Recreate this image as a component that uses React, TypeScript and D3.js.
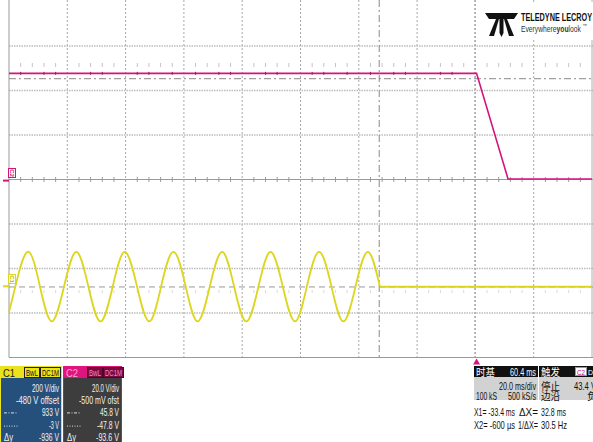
import React from "react";
import * as d3 from "d3";

// ---- Data ----
// time in ms relative to trigger; C1 volts
const c1Time = [-160.4, -158.2, -154.0, -149.8, -145.7, -141.5, -137.3, -133.2, -129.0, -124.8, -120.7, -116.5, -112.3, -108.2, -104.0, -99.8, -95.7, -91.5, -87.3, -83.2, -79.0, -74.8, -70.7, -66.5, -62.3, -58.2, -54.0, -49.8, -45.7, -41.5, -37.3, -33.2];
const c1Volt = [-116, 0, 155, 0, -158, 0, 155, 0, -158, 0, 155, 0, -158, 0, 155, 0, -158, 0, 155, 0, -158, 0, 155, 0, -158, 0, 155, 0, -158, 0, 155, 0];
const c1FlatTime = [-33.2, -20, 0, 20, 39.6];
const c1FlatVolt = [-2, -2, -2, -2, -2];
const c2Time = [-160.4, 0, 10.8, 39.6];
const c2Volt = [48.2, 48.2, 0.7, 0.7];

const timeDomain = [-160.4, 39.6];
const c1Center = 480; // -offset
const c1PerDiv = 200;
const c2Center = 0.5;
const c2PerDiv = 20;
const cursorX = [-33.4, -0.6];
const cursorC2 = [45.8, -47.8];

// [text, left symbol, text width]
const c1Lines: [string, string, number][] = [["200 V/div", "", 27], ["-480 V offset", "", 43], ["933 V", "dashdot", 17], ["-3 V", "dots", 10], ["-936 V", "dy", 20]];
const c2Lines: [string, string, number][] = [["20.0 V/div", "", 27], ["-500 mV ofst", "", 40], ["45.8 V", "dashdot", 19], ["-47.8 V", "dots", 22], ["-93.6 V", "dy", 23]];

const X0 = 9, X1 = 592, Y0 = 1.5, Y1 = 357.5;
const NX = 10, NY = 8;

const FONT = "'Liberation Sans',Arial,sans-serif";
const CJK = "'Noto Sans CJK SC',sans-serif";
const YEL = "#dcd61e";
const MAG = "#d3147c";

type TP = { x: number; y: number; w?: number; size?: number; anchor?: string; fill?: string; family?: string; weight?: string; children: React.ReactNode };
const T = ({ x, y, w, size = 10.8, anchor = "start", fill = "#111", family = FONT, weight, children }: TP) => (
  <text x={x} y={y} fontSize={size} textAnchor={anchor} fill={fill} fontFamily={family} fontWeight={weight}
    textLength={w} lengthAdjust={w ? "spacingAndGlyphs" : undefined}>{children}</text>
);

export default function App() {
  const x = d3.scaleLinear().domain(timeDomain).range([X0, X1]);
  const yC1 = d3.scaleLinear().domain([c1Center - 4 * c1PerDiv, c1Center + 4 * c1PerDiv]).range([Y1, Y0]);
  const yC2 = d3.scaleLinear().domain([c2Center - 4 * c2PerDiv, c2Center + 4 * c2PerDiv]).range([Y1, Y0]);
  const dx = (X1 - X0) / NX;
  const dy = (Y1 - Y0) / NY;
  const yc = (Y0 + Y1) / 2;

  const sinePts = c1Time.map((t, i) => [t, c1Volt[i]] as [number, number]);
  const sineLine = d3.line<[number, number]>().x(d => x(d[0])).y(d => yC1(d[1])).curve(d3.curveNatural);
  const flatLine = d3.line<[number, number]>().x(d => x(d[0])).y(d => yC1(d[1]));
  const flatPts = c1FlatTime.map((t, i) => [t, c1FlatVolt[i]] as [number, number]);
  const c2Pts = c2Time.map((t, i) => [t, c2Volt[i]] as [number, number]);
  const c2Line = d3.line<[number, number]>().x(d => x(d[0])).y(d => yC2(d[1]));

  const vLines = d3.range(1, NX).map(i => X0 + i * dx);
  const hLines = d3.range(1, NY).filter(i => i !== 4).map(i => Y0 + i * dy);
  const minor = d3.range(0, NX * 5 + 1).filter(i => i % 5 !== 0).map(i => X0 + i * dx / 5);

  const panel = (px: number, w: number, head: string, headBg: string, headFg: string, boxBg: string, boxFg: string, boxBorder: string, bodyBg: string, lines: [string, string, number][], outline: string) => (
    <g>
      <rect x={px + 0.5} y={366.5} width={w - 1} height={80} fill={bodyBg} stroke={outline} strokeWidth={1} />
      <rect x={px} y={366} width={w} height={12} fill={headBg} />
      <T x={px + 3} y={376.5} size={11} fill={headFg} w={12}>{head}</T>
      <rect x={px + 24.5} y={367.5} width={15} height={10} fill={boxBg} stroke={boxBorder} strokeWidth={1} />
      <T x={px + 32} y={375.5} size={8.5} fill={boxFg} anchor="middle" w={12}>BwL</T>
      <rect x={px + 40.5} y={367.5} width={20} height={10} fill={boxBg} stroke={boxBorder} strokeWidth={1} />
      <T x={px + 50.5} y={375.5} size={8.5} fill={boxFg} anchor="middle" w={17}>DC1M</T>
      {lines.map((l, i) => {
        const ty = 392 + i * 12.2;
        return (
          <g key={i}>
            <T x={px + w - 3} y={ty} size={10.5} fill="#f2f2f2" anchor="end" w={l[2]}>{l[0]}</T>
            {l[1] === "dashdot" && <line x1={px + 4} x2={px + 18} y1={ty - 3.5} y2={ty - 3.5} stroke="#ddd" strokeDasharray="3,1.5,1,1.5" />}
            {l[1] === "dots" && <line x1={px + 4} x2={px + 18} y1={ty - 2.5} y2={ty - 2.5} stroke="#ddd" strokeDasharray="1,1.5" />}
            {l[1] === "dy" && <T x={px + 4} y={ty} size={10.5} fill="#f2f2f2" w={9}>Δy</T>}
          </g>
        );
      })}
    </g>
  );

  return (
    <svg width={593} height={442} style={{ position: "absolute", left: 0, top: 0, background: "#fff" }}>
      <rect x={0} y={0} width={593} height={442} fill="#fff" />
      {/* grid */}
      {vLines.map((vx, i) => (
        <line key={"v" + i} x1={vx} x2={vx} y1={0} y2={Y1} stroke="#a8a8a8" strokeWidth={1} strokeDasharray="2,2" />
      ))}
      {hLines.map((hy, i) => (
        <line key={"h" + i} x1={X0} x2={593} y1={hy} y2={hy} stroke="#bcbcbc" strokeWidth={1.4} strokeDasharray="1.5,1" />
      ))}
      <line x1={X0} x2={593} y1={yc} y2={yc} stroke="#9a9a9a" strokeWidth={1} />
      {minor.map((mx, i) => (
        <line key={"t" + i} x1={mx} x2={mx} y1={yc - 2.5} y2={yc + 2.5} stroke="#9a9a9a" strokeWidth={1} />
      ))}
      {minor.map((mx, i) => (
        <line key={"u" + i} x1={mx} x2={mx} y1={63} y2={67} stroke="#c4c4c4" strokeWidth={1} />
      ))}
      {minor.map((mx, i) => (
        <line key={"w" + i} x1={mx} x2={mx} y1={290} y2={293} stroke="#dadada" strokeWidth={1} />
      ))}
      <line x1={X0} x2={X0} y1={0} y2={Y1} stroke="#9a9a9a" strokeWidth={1} />
      <line x1={X1} x2={X1} y1={0} y2={Y1} stroke="#b0b0b0" strokeWidth={1} />
      <line x1={X0} x2={593} y1={Y1} y2={Y1} stroke="#9a9a9a" strokeWidth={1} />

      {/* cursors */}
      <line x1={x(cursorX[0])} x2={x(cursorX[0])} y1={0} y2={Y1} stroke="#888" strokeWidth={1} strokeDasharray="7,3,2,3" />
      <line x1={x(cursorX[1])} x2={x(cursorX[1])} y1={0} y2={Y1} stroke="#aaa" strokeWidth={1} strokeDasharray="2,2" />
      <line x1={X0} x2={593} y1={yC2(cursorC2[0])} y2={yC2(cursorC2[0])} stroke="#888" strokeWidth={1} strokeDasharray="7,3,2,3" />
      <line x1={X0} x2={593} y1={yC2(cursorC2[1])} y2={yC2(cursorC2[1])} stroke="#999" strokeWidth={1} strokeDasharray="6,4" />

      {/* traces */}
      <path d={sineLine(sinePts) || ""} fill="none" stroke={YEL} strokeWidth={1.8} />
      <path d={flatLine(flatPts) || ""} fill="none" stroke={YEL} strokeWidth={1.8} />
      <path d={c2Line(c2Pts) || ""} fill="none" stroke={MAG} strokeWidth={1.6} />
      {minor.filter((_, i) => i % 3 !== 1).map((mx, i) => (
        mx < x(0) ? <line key={"m" + i} x1={mx} x2={mx} y1={yC2(c2Volt[0]) - 1.5} y2={yC2(c2Volt[0]) + 1.5} stroke="#a01860" strokeWidth={1} /> : null
      ))}

      {/* channel markers */}
      <rect x={8.5} y={168.5} width={7} height={9} fill="#fff" stroke={MAG} strokeWidth={1} />
      <text x={0} y={0} fontSize={6} fill={MAG} fontFamily={FONT} fontWeight="bold" textAnchor="middle" dy="0.35em" transform="translate(12,173) rotate(90)">C2</text>
      <line x1={3} x2={9} y1={yC2(0)} y2={yC2(0)} stroke={MAG} strokeWidth={2} />
      <rect x={8.5} y={274.5} width={7} height={9} fill="#fff" stroke={YEL} strokeWidth={1} />
      <text x={0} y={0} fontSize={6} fill="#b8b000" fontFamily={FONT} fontWeight="bold" textAnchor="middle" dy="0.35em" transform="translate(12,279) rotate(90)">C1</text>
      <line x1={3} x2={9} y1={yC1(0)} y2={yC1(0)} stroke={YEL} strokeWidth={2} />

      {/* trigger arrow */}
      <path d={`M${x(0)},${Y1 + 1} L${x(0) + 3.5},${Y1 + 7} L${x(0) - 3.5},${Y1 + 7} Z`} fill={MAG} />

      {/* logo */}
      <rect x={480} y={2} width={113} height={38} fill="#fff" />
      <g fill="#111">
        <path d="M485,13 L518,13 L514,19 L489,19 Z" />
        <path d="M499.5,13 L503.5,13 L503.5,33 L501.5,37 L499.5,33 Z" />
        <path d="M496,19 L499,19 L494,36 L489,36 Z" />
        <path d="M504,19 L507,19 L514,36 L509,36 Z" />
      </g>
      <T x={521} y={21} size={10.5} weight="bold" w={71}>TELEDYNE LECROY</T>
      <text x={521} y={32} fontSize={9} fill="#333" fontFamily={FONT} textLength={60} lengthAdjust="spacingAndGlyphs">
        Everywhere<tspan fontWeight="bold">you</tspan>look
      </text>
      <text x={582.5} y={27} fontSize={4.5} fill="#333" fontFamily={FONT}>™</text>

      {/* channel panels */}
      {panel(0, 62, "C1", "#e9e21c", "#1a1a1a", "#e9e21c", "#111", "#222", "#26507c", c1Lines, "#e9e21c")}
      {panel(63, 59, "C2", "#e0147f", "#f6a9cf", "#7a0a40", "#f08cc0", "#4a0626", "#3d3d3d", c2Lines, "#555")}

      {/* timebase / trigger panel */}
      <rect x={474} y={366} width={64} height={11} fill="#111" />
      <T x={476} y={375.5} size={10} fill="#fff" family={CJK} w={19}>时基</T>
      <T x={536} y={375.5} fill="#fff" anchor="end" w={26}>60.4 ms</T>
      <rect x={539} y={366} width={54} height={11} fill="#111" />
      <T x={541} y={375.5} size={10} fill="#fff" family={CJK} w={19}>触发</T>
      <rect x={575.5} y={367.5} width={11} height={8} fill="#fff" stroke="#999" strokeWidth={1} />
      <T x={581} y={374.5} size={7} fill="#b0106a" anchor="middle" w={8}>C2</T>
      <T x={588} y={375} size={8} fill="#fff" w={10}>DC</T>
      <rect x={474} y={377} width={64} height={23} fill="#d2d2d2" />
      <rect x={539} y={377} width={54} height={23} fill="#d2d2d2" />
      <T x={536} y={390} anchor="end" w={37}>20.0 ms/div</T>
      <T x={476} y={400} w={21}>100 kS</T>
      <T x={536} y={400} anchor="end" w={28}>500 kS/s</T>
      <T x={541} y={389.5} size={10} family={CJK} w={19}>停止</T>
      <T x={574} y={390} w={22}>43.4 V</T>
      <T x={541} y={399.5} size={10} family={CJK} w={19}>边沿</T>
      <T x={587} y={399.5} size={10} family={CJK} w={10}>负</T>
      <T x={474} y={416} w={41}>X1= -33.4 ms</T>
      <T x={538} y={416} anchor="end" w={19}>ΔX=</T>
      <T x={541} y={416} w={25}>32.8 ms</T>
      <T x={474} y={429} w={41}>X2= -600 µs</T>
      <T x={538} y={429} anchor="end" w={20}>1/ΔX=</T>
      <T x={541} y={429} w={26}>30.5 Hz</T>
    </svg>
  );
}
